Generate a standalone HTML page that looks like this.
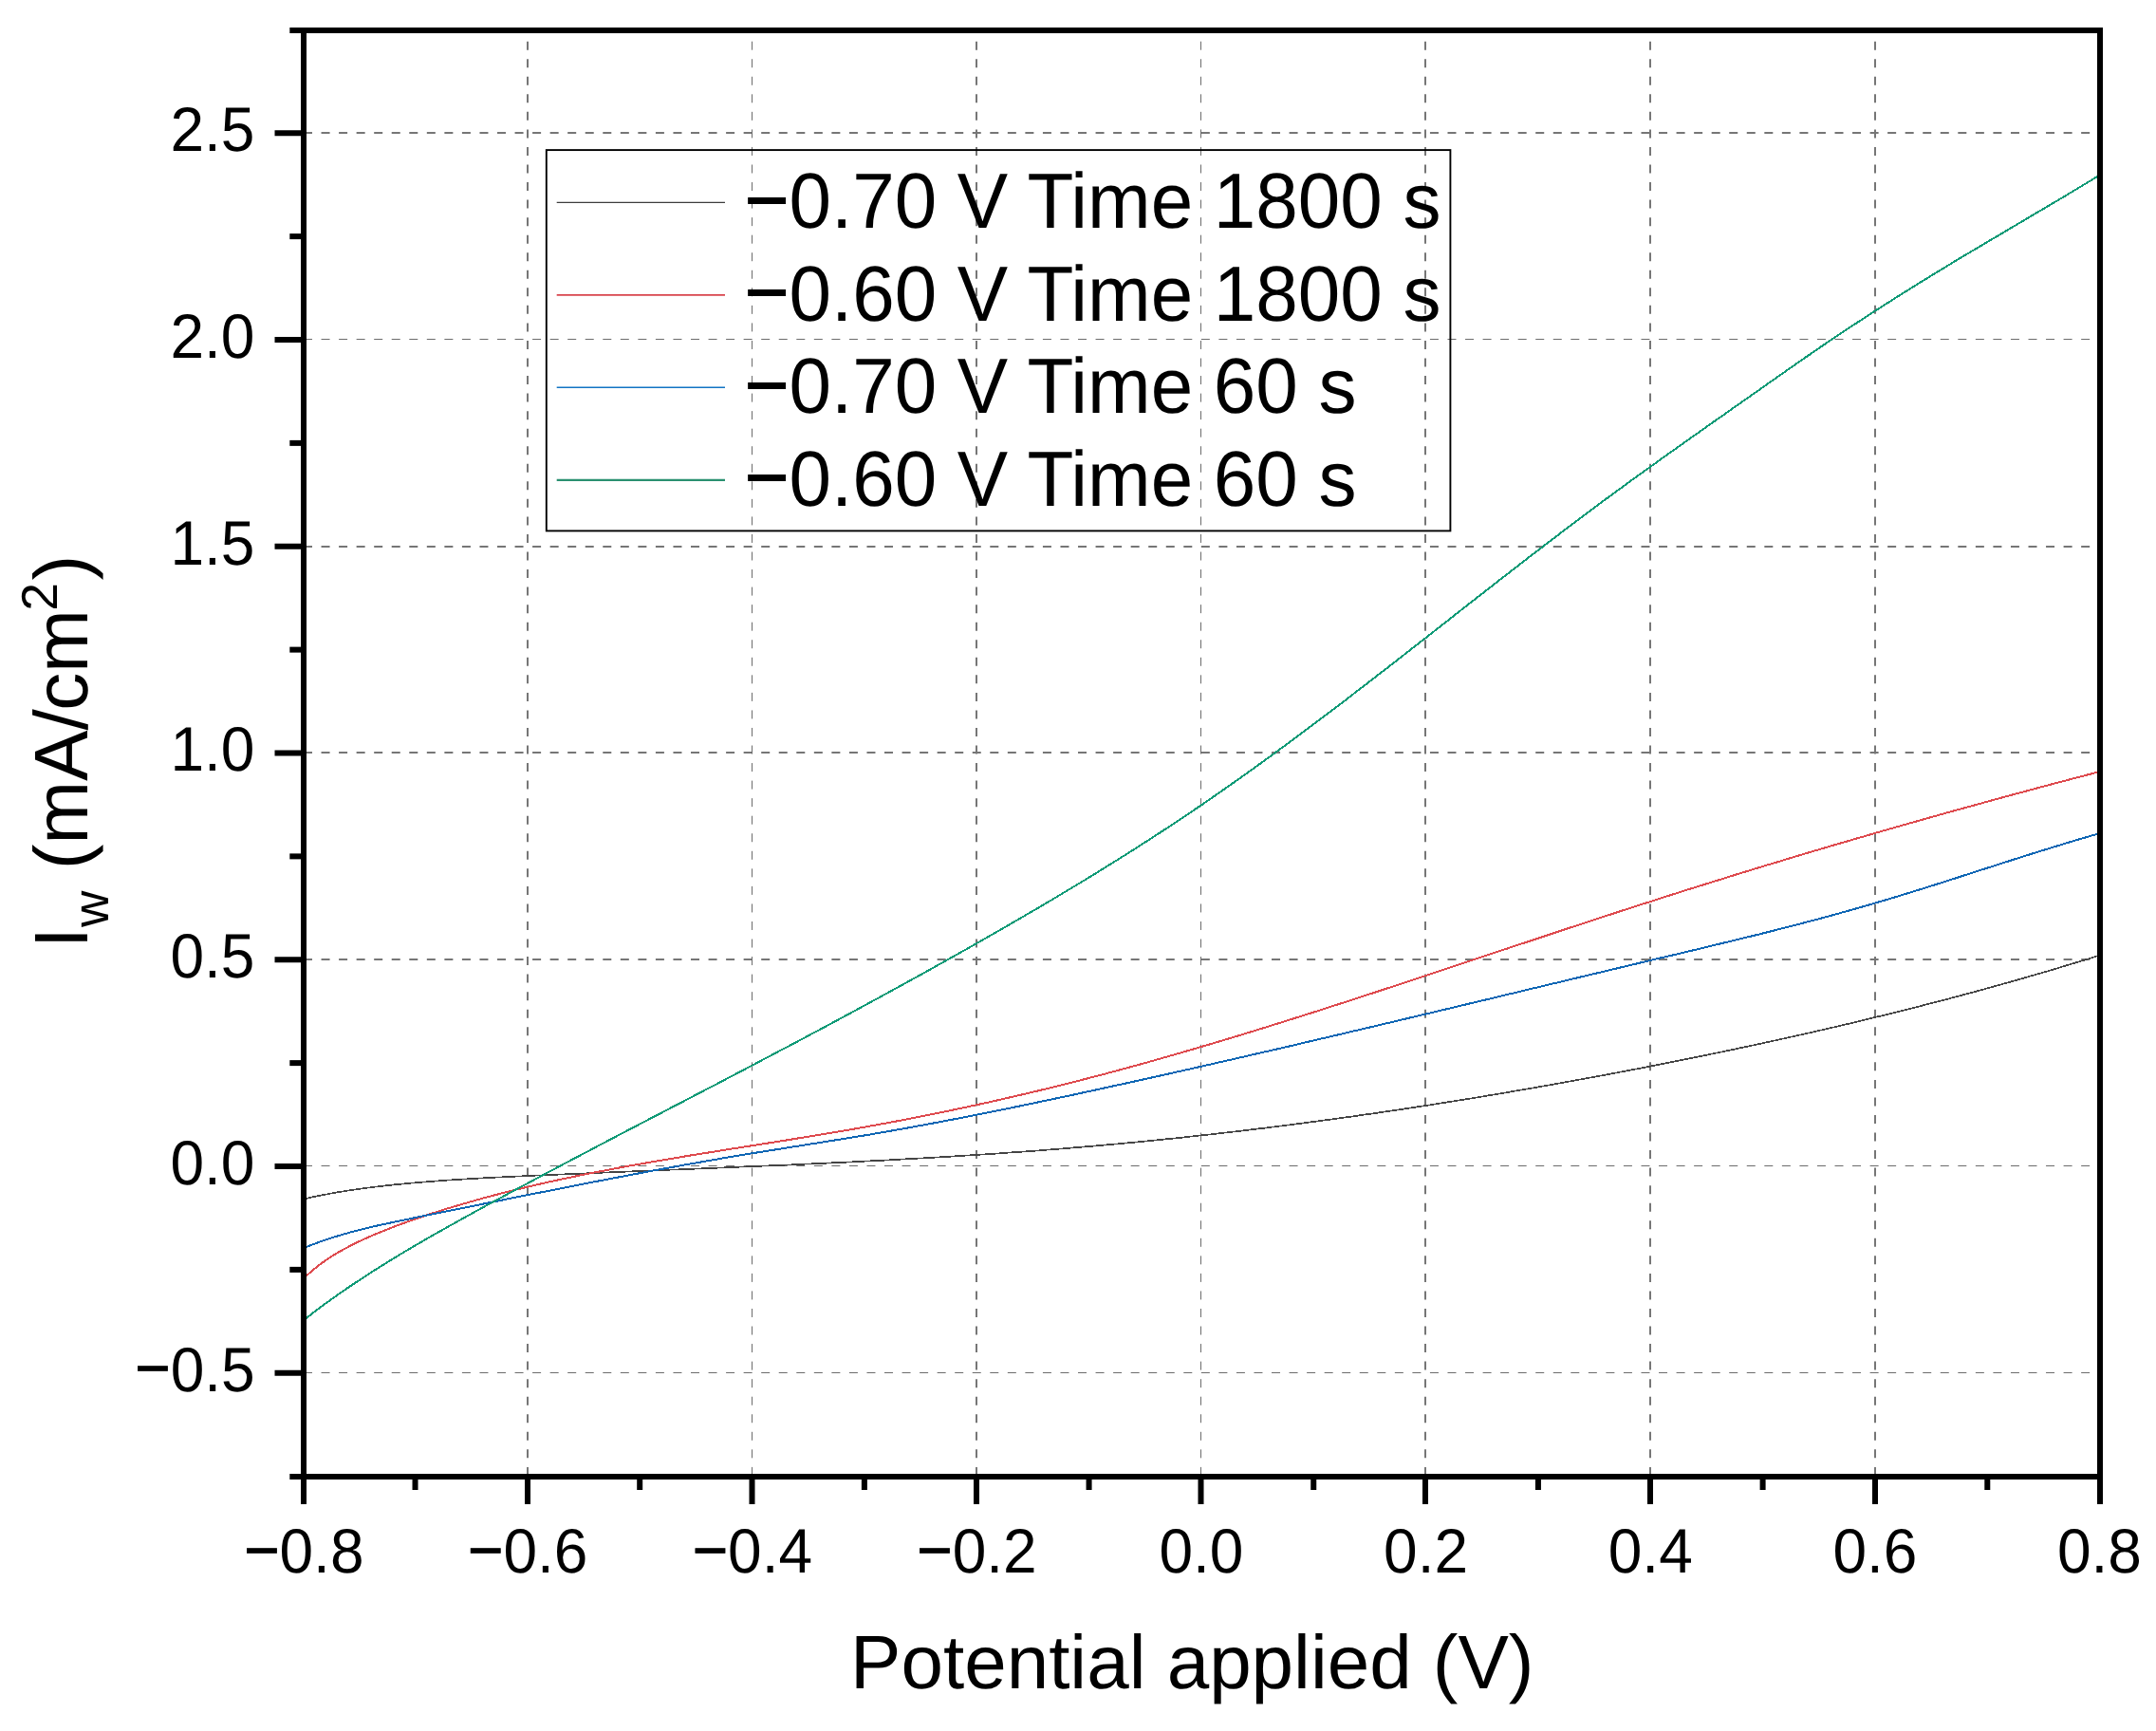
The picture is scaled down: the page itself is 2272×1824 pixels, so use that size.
<!DOCTYPE html>
<html lang="en"><head><meta charset="utf-8">
<title>Potential applied (V) vs Iw (mA/cm2)</title>
<style>
html,body{margin:0;padding:0;background:#fff;}
body{width:2272px;height:1824px;overflow:hidden;}
svg{display:block;}
text{font-family:"Liberation Sans", sans-serif;fill:#000;text-rendering:geometricPrecision;}
.tk{font-size:64px;}
.ti{font-size:80px;}
</style></head><body>
<svg width="2272" height="1824" viewBox="0 0 2272 1824">
<rect x="0" y="0" width="2272" height="1824" fill="#fff"/>
<g stroke-dasharray="9 9.546" fill="none">
<line x1="320.00" y1="140.00" x2="2210.00" y2="140.00" stroke="#767676" stroke-width="2"/>
<line x1="320.00" y1="357.50" x2="2210.00" y2="357.50" stroke="#6c6c6c" stroke-width="1"/>
<line x1="320.00" y1="576.00" x2="2210.00" y2="576.00" stroke="#767676" stroke-width="2"/>
<line x1="320.00" y1="793.00" x2="2210.00" y2="793.00" stroke="#767676" stroke-width="2"/>
<line x1="320.00" y1="1011.00" x2="2210.00" y2="1011.00" stroke="#767676" stroke-width="2"/>
<line x1="320.00" y1="1228.50" x2="2210.00" y2="1228.50" stroke="#6c6c6c" stroke-width="1"/>
<line x1="320.00" y1="1446.50" x2="2210.00" y2="1446.50" stroke="#6c6c6c" stroke-width="1"/>
<line x1="556.00" y1="1554.90" x2="556.00" y2="36.00" stroke="#767676" stroke-width="2"/>
<line x1="792.50" y1="1554.90" x2="792.50" y2="36.00" stroke="#6c6c6c" stroke-width="1"/>
<line x1="1029.00" y1="1554.90" x2="1029.00" y2="36.00" stroke="#767676" stroke-width="2"/>
<line x1="1265.50" y1="1554.90" x2="1265.50" y2="36.00" stroke="#6c6c6c" stroke-width="1"/>
<line x1="1502.00" y1="1554.90" x2="1502.00" y2="36.00" stroke="#767676" stroke-width="2"/>
<line x1="1739.00" y1="1554.90" x2="1739.00" y2="36.00" stroke="#767676" stroke-width="2"/>
<line x1="1976.00" y1="1554.90" x2="1976.00" y2="36.00" stroke="#767676" stroke-width="2"/>
</g>
<clipPath id="pc"><rect x="317.0" y="29.0" width="1899.0" height="1530.0"/></clipPath>
<g fill="none" stroke-linejoin="round" clip-path="url(#pc)" shape-rendering="crispEdges">
<path d="M319.2 1263.6 L328.6 1261.5 L338.1 1259.6 L347.6 1257.8 L357.0 1256.1 L366.5 1254.6 L376.0 1253.2 L385.5 1251.9 L394.9 1250.7 L404.4 1249.6 L413.9 1248.5 L423.3 1247.6 L432.8 1246.7 L442.3 1245.9 L451.7 1245.1 L461.2 1244.4 L470.7 1243.7 L480.1 1243.1 L489.6 1242.5 L499.1 1242.0 L508.5 1241.4 L518.0 1240.9 L527.5 1240.4 L536.9 1240.0 L546.4 1239.5 L555.9 1239.1 L565.3 1238.6 L574.8 1238.2 L584.3 1237.8 L593.7 1237.4 L603.2 1237.0 L612.7 1236.6 L622.1 1236.2 L631.6 1235.8 L641.1 1235.4 L650.5 1235.0 L660.0 1234.6 L669.5 1234.2 L678.9 1233.8 L688.4 1233.4 L697.9 1233.0 L707.3 1232.6 L716.8 1232.3 L726.3 1231.9 L735.7 1231.5 L745.2 1231.1 L754.7 1230.7 L764.1 1230.3 L773.6 1229.9 L783.1 1229.5 L792.5 1229.1 L802.0 1228.7 L811.5 1228.3 L820.9 1227.9 L830.4 1227.5 L839.9 1227.1 L849.3 1226.6 L858.8 1226.2 L868.3 1225.8 L877.7 1225.3 L887.2 1224.9 L896.7 1224.4 L906.1 1223.9 L915.6 1223.4 L925.1 1223.0 L934.5 1222.5 L944.0 1222.0 L953.5 1221.4 L962.9 1220.9 L972.4 1220.4 L981.9 1219.8 L991.4 1219.3 L1000.8 1218.7 L1010.3 1218.1 L1019.8 1217.5 L1029.2 1216.9 L1038.7 1216.3 L1048.2 1215.7 L1057.6 1215.0 L1067.1 1214.3 L1076.6 1213.7 L1086.0 1213.0 L1095.5 1212.3 L1105.0 1211.5 L1114.4 1210.8 L1123.9 1210.0 L1133.4 1209.2 L1142.8 1208.4 L1152.3 1207.6 L1161.8 1206.8 L1171.2 1205.9 L1180.7 1205.1 L1190.2 1204.2 L1199.6 1203.3 L1209.1 1202.3 L1218.6 1201.4 L1228.0 1200.4 L1237.5 1199.5 L1247.0 1198.5 L1256.4 1197.4 L1265.9 1196.4 L1275.4 1195.4 L1284.8 1194.3 L1294.3 1193.2 L1303.8 1192.1 L1313.2 1191.0 L1322.7 1189.8 L1332.2 1188.7 L1341.6 1187.5 L1351.1 1186.3 L1360.6 1185.1 L1370.0 1183.9 L1379.5 1182.6 L1389.0 1181.4 L1398.4 1180.1 L1407.9 1178.8 L1417.4 1177.5 L1426.8 1176.2 L1436.3 1174.8 L1445.8 1173.5 L1455.2 1172.1 L1464.7 1170.7 L1474.2 1169.3 L1483.6 1167.9 L1493.1 1166.4 L1502.6 1165.0 L1512.0 1163.5 L1521.5 1162.0 L1531.0 1160.5 L1540.4 1159.0 L1549.9 1157.5 L1559.4 1155.9 L1568.9 1154.3 L1578.3 1152.8 L1587.8 1151.2 L1597.3 1149.5 L1606.7 1147.9 L1616.2 1146.3 L1625.7 1144.6 L1635.1 1142.9 L1644.6 1141.2 L1654.1 1139.5 L1663.5 1137.8 L1673.0 1136.1 L1682.5 1134.3 L1691.9 1132.6 L1701.4 1130.8 L1710.9 1129.0 L1720.3 1127.2 L1729.8 1125.4 L1739.3 1123.5 L1748.7 1121.7 L1758.2 1119.8 L1767.7 1117.9 L1777.1 1116.0 L1786.6 1114.1 L1796.1 1112.2 L1805.5 1110.2 L1815.0 1108.3 L1824.5 1106.3 L1833.9 1104.3 L1843.4 1102.3 L1852.9 1100.2 L1862.3 1098.2 L1871.8 1096.1 L1881.3 1094.0 L1890.7 1091.9 L1900.2 1089.8 L1909.7 1087.7 L1919.1 1085.5 L1928.6 1083.3 L1938.1 1081.1 L1947.5 1078.9 L1957.0 1076.6 L1966.5 1074.3 L1975.9 1072.0 L1985.4 1069.7 L1994.9 1067.4 L2004.3 1065.0 L2013.8 1062.6 L2023.3 1060.2 L2032.7 1057.8 L2042.2 1055.3 L2051.7 1052.9 L2061.1 1050.4 L2070.6 1047.8 L2080.1 1045.3 L2089.5 1042.7 L2099.0 1040.1 L2108.5 1037.4 L2117.9 1034.8 L2127.4 1032.1 L2136.9 1029.4 L2146.3 1026.6 L2155.8 1023.9 L2165.3 1021.1 L2174.8 1018.2 L2184.2 1015.4 L2193.7 1012.5 L2203.2 1009.6 L2212.6 1006.6" stroke="#444444" stroke-width="1.70"/>
<path d="M319.2 1347.7 L328.6 1339.2 L338.1 1331.7 L347.6 1325.1 L357.0 1319.3 L366.5 1314.1 L376.0 1309.3 L385.5 1304.9 L394.9 1300.8 L404.4 1296.9 L413.9 1293.1 L423.3 1289.6 L432.8 1286.2 L442.3 1282.9 L451.7 1279.8 L461.2 1276.7 L470.7 1273.7 L480.1 1270.9 L489.6 1268.1 L499.1 1265.4 L508.5 1262.7 L518.0 1260.2 L527.5 1257.7 L536.9 1255.3 L546.4 1253.0 L555.9 1250.7 L565.3 1248.5 L574.8 1246.3 L584.3 1244.2 L593.7 1242.2 L603.2 1240.2 L612.7 1238.2 L622.1 1236.3 L631.6 1234.5 L641.1 1232.7 L650.5 1230.9 L660.0 1229.1 L669.5 1227.4 L678.9 1225.8 L688.4 1224.1 L697.9 1222.5 L707.3 1220.9 L716.8 1219.3 L726.3 1217.7 L735.7 1216.2 L745.2 1214.7 L754.7 1213.2 L764.1 1211.6 L773.6 1210.1 L783.1 1208.7 L792.5 1207.2 L802.0 1205.7 L811.5 1204.2 L820.9 1202.7 L830.4 1201.2 L839.9 1199.6 L849.3 1198.1 L858.8 1196.6 L868.3 1195.0 L877.7 1193.4 L887.2 1191.8 L896.7 1190.2 L906.1 1188.5 L915.6 1186.8 L925.1 1185.1 L934.5 1183.4 L944.0 1181.6 L953.5 1179.8 L962.9 1178.0 L972.4 1176.1 L981.9 1174.2 L991.4 1172.3 L1000.8 1170.3 L1010.3 1168.3 L1019.8 1166.3 L1029.2 1164.2 L1038.7 1162.2 L1048.2 1160.0 L1057.6 1157.9 L1067.1 1155.7 L1076.6 1153.5 L1086.0 1151.3 L1095.5 1149.0 L1105.0 1146.7 L1114.4 1144.4 L1123.9 1142.0 L1133.4 1139.6 L1142.8 1137.2 L1152.3 1134.7 L1161.8 1132.3 L1171.2 1129.7 L1180.7 1127.2 L1190.2 1124.6 L1199.6 1122.0 L1209.1 1119.4 L1218.6 1116.7 L1228.0 1114.0 L1237.5 1111.3 L1247.0 1108.6 L1256.4 1105.8 L1265.9 1103.0 L1275.4 1100.2 L1284.8 1097.4 L1294.3 1094.6 L1303.8 1091.7 L1313.2 1088.8 L1322.7 1085.9 L1332.2 1083.0 L1341.6 1080.0 L1351.1 1077.1 L1360.6 1074.1 L1370.0 1071.1 L1379.5 1068.1 L1389.0 1065.1 L1398.4 1062.1 L1407.9 1059.0 L1417.4 1056.0 L1426.8 1052.9 L1436.3 1049.8 L1445.8 1046.7 L1455.2 1043.6 L1464.7 1040.5 L1474.2 1037.4 L1483.6 1034.3 L1493.1 1031.2 L1502.6 1028.0 L1512.0 1024.9 L1521.5 1021.7 L1531.0 1018.6 L1540.4 1015.4 L1549.9 1012.3 L1559.4 1009.1 L1568.9 1006.0 L1578.3 1002.8 L1587.8 999.7 L1597.3 996.5 L1606.7 993.4 L1616.2 990.3 L1625.7 987.1 L1635.1 984.0 L1644.6 980.8 L1654.1 977.7 L1663.5 974.6 L1673.0 971.5 L1682.5 968.4 L1691.9 965.3 L1701.4 962.2 L1710.9 959.1 L1720.3 956.1 L1729.8 953.0 L1739.3 950.0 L1748.7 946.9 L1758.2 943.9 L1767.7 940.9 L1777.1 937.9 L1786.6 934.9 L1796.1 932.0 L1805.5 929.0 L1815.0 926.1 L1824.5 923.1 L1833.9 920.2 L1843.4 917.3 L1852.9 914.4 L1862.3 911.5 L1871.8 908.7 L1881.3 905.8 L1890.7 903.0 L1900.2 900.1 L1909.7 897.3 L1919.1 894.5 L1928.6 891.7 L1938.1 888.9 L1947.5 886.2 L1957.0 883.4 L1966.5 880.7 L1975.9 877.9 L1985.4 875.2 L1994.9 872.5 L2004.3 869.8 L2013.8 867.1 L2023.3 864.4 L2032.7 861.7 L2042.2 859.1 L2051.7 856.4 L2061.1 853.8 L2070.6 851.2 L2080.1 848.6 L2089.5 846.0 L2099.0 843.4 L2108.5 840.8 L2117.9 838.2 L2127.4 835.7 L2136.9 833.1 L2146.3 830.6 L2155.8 828.0 L2165.3 825.5 L2174.8 823.0 L2184.2 820.5 L2193.7 818.0 L2203.2 815.6 L2212.6 813.1" stroke="#de4a4e" stroke-width="2.00"/>
<path d="M319.2 1315.5 L328.6 1311.7 L338.1 1308.2 L347.6 1305.0 L357.0 1302.0 L366.5 1299.3 L376.0 1296.7 L385.5 1294.4 L394.9 1292.1 L404.4 1290.0 L413.9 1288.0 L423.3 1286.0 L432.8 1284.1 L442.3 1282.1 L451.7 1280.2 L461.2 1278.3 L470.7 1276.4 L480.1 1274.5 L489.6 1272.6 L499.1 1270.7 L508.5 1268.7 L518.0 1266.8 L527.5 1264.9 L536.9 1263.0 L546.4 1261.1 L555.9 1259.2 L565.3 1257.3 L574.8 1255.5 L584.3 1253.6 L593.7 1251.7 L603.2 1249.9 L612.7 1248.0 L622.1 1246.1 L631.6 1244.3 L641.1 1242.5 L650.5 1240.7 L660.0 1238.9 L669.5 1237.1 L678.9 1235.3 L688.4 1233.5 L697.9 1231.8 L707.3 1230.1 L716.8 1228.3 L726.3 1226.6 L735.7 1225.0 L745.2 1223.3 L754.7 1221.7 L764.1 1220.0 L773.6 1218.4 L783.1 1216.9 L792.5 1215.3 L802.0 1213.8 L811.5 1212.3 L820.9 1210.8 L830.4 1209.3 L839.9 1207.8 L849.3 1206.3 L858.8 1204.8 L868.3 1203.3 L877.7 1201.8 L887.2 1200.3 L896.7 1198.8 L906.1 1197.2 L915.6 1195.7 L925.1 1194.0 L934.5 1192.4 L944.0 1190.7 L953.5 1189.1 L962.9 1187.3 L972.4 1185.6 L981.9 1183.8 L991.4 1182.1 L1000.8 1180.2 L1010.3 1178.4 L1019.8 1176.6 L1029.2 1174.7 L1038.7 1172.8 L1048.2 1170.9 L1057.6 1169.0 L1067.1 1167.0 L1076.6 1165.1 L1086.0 1163.1 L1095.5 1161.1 L1105.0 1159.1 L1114.4 1157.1 L1123.9 1155.1 L1133.4 1153.1 L1142.8 1151.0 L1152.3 1149.0 L1161.8 1146.9 L1171.2 1144.8 L1180.7 1142.8 L1190.2 1140.7 L1199.6 1138.6 L1209.1 1136.5 L1218.6 1134.4 L1228.0 1132.3 L1237.5 1130.1 L1247.0 1128.0 L1256.4 1125.9 L1265.9 1123.7 L1275.4 1121.6 L1284.8 1119.4 L1294.3 1117.3 L1303.8 1115.1 L1313.2 1112.9 L1322.7 1110.7 L1332.2 1108.5 L1341.6 1106.4 L1351.1 1104.2 L1360.6 1102.0 L1370.0 1099.8 L1379.5 1097.5 L1389.0 1095.3 L1398.4 1093.1 L1407.9 1090.9 L1417.4 1088.7 L1426.8 1086.4 L1436.3 1084.2 L1445.8 1082.0 L1455.2 1079.7 L1464.7 1077.5 L1474.2 1075.2 L1483.6 1073.0 L1493.1 1070.7 L1502.6 1068.5 L1512.0 1066.2 L1521.5 1064.0 L1531.0 1061.7 L1540.4 1059.5 L1549.9 1057.2 L1559.4 1054.9 L1568.9 1052.7 L1578.3 1050.4 L1587.8 1048.1 L1597.3 1045.9 L1606.7 1043.6 L1616.2 1041.3 L1625.7 1039.1 L1635.1 1036.8 L1644.6 1034.6 L1654.1 1032.3 L1663.5 1030.0 L1673.0 1027.8 L1682.5 1025.5 L1691.9 1023.3 L1701.4 1021.0 L1710.9 1018.7 L1720.3 1016.5 L1729.8 1014.2 L1739.3 1012.0 L1748.7 1009.7 L1758.2 1007.5 L1767.7 1005.3 L1777.1 1003.0 L1786.6 1000.8 L1796.1 998.5 L1805.5 996.2 L1815.0 993.9 L1824.5 991.6 L1833.9 989.3 L1843.4 987.0 L1852.9 984.7 L1862.3 982.3 L1871.8 979.9 L1881.3 977.5 L1890.7 975.1 L1900.2 972.6 L1909.7 970.1 L1919.1 967.6 L1928.6 965.0 L1938.1 962.4 L1947.5 959.8 L1957.0 957.1 L1966.5 954.4 L1975.9 951.6 L1985.4 948.8 L1994.9 946.0 L2004.3 943.1 L2013.8 940.2 L2023.3 937.3 L2032.7 934.3 L2042.2 931.3 L2051.7 928.3 L2061.1 925.3 L2070.6 922.2 L2080.1 919.2 L2089.5 916.1 L2099.0 913.1 L2108.5 910.1 L2117.9 907.0 L2127.4 904.0 L2136.9 901.0 L2146.3 898.0 L2155.8 895.1 L2165.3 892.2 L2174.8 889.3 L2184.2 886.4 L2193.7 883.6 L2203.2 880.8 L2212.6 878.1" stroke="#0e66b4" stroke-width="2.00"/>
<path d="M319.2 1391.8 L328.6 1384.4 L338.1 1377.2 L347.6 1370.3 L357.0 1363.6 L366.5 1357.0 L376.0 1350.7 L385.5 1344.5 L394.9 1338.4 L404.4 1332.4 L413.9 1326.6 L423.3 1320.8 L432.8 1315.2 L442.3 1309.7 L451.7 1304.2 L461.2 1298.8 L470.7 1293.5 L480.1 1288.2 L489.6 1282.9 L499.1 1277.7 L508.5 1272.5 L518.0 1267.4 L527.5 1262.2 L536.9 1257.1 L546.4 1252.0 L555.9 1246.9 L565.3 1241.9 L574.8 1236.8 L584.3 1231.8 L593.7 1226.8 L603.2 1221.7 L612.7 1216.8 L622.1 1211.8 L631.6 1206.8 L641.1 1201.8 L650.5 1196.9 L660.0 1191.9 L669.5 1187.0 L678.9 1182.0 L688.4 1177.1 L697.9 1172.2 L707.3 1167.2 L716.8 1162.3 L726.3 1157.4 L735.7 1152.4 L745.2 1147.5 L754.7 1142.6 L764.1 1137.6 L773.6 1132.6 L783.1 1127.7 L792.5 1122.7 L802.0 1117.7 L811.5 1112.7 L820.9 1107.7 L830.4 1102.7 L839.9 1097.7 L849.3 1092.7 L858.8 1087.6 L868.3 1082.6 L877.7 1077.5 L887.2 1072.4 L896.7 1067.3 L906.1 1062.2 L915.6 1057.0 L925.1 1051.9 L934.5 1046.7 L944.0 1041.5 L953.5 1036.3 L962.9 1031.1 L972.4 1025.9 L981.9 1020.6 L991.4 1015.3 L1000.8 1010.0 L1010.3 1004.7 L1019.8 999.4 L1029.2 994.0 L1038.7 988.6 L1048.2 983.2 L1057.6 977.8 L1067.1 972.3 L1076.6 966.8 L1086.0 961.3 L1095.5 955.8 L1105.0 950.2 L1114.4 944.6 L1123.9 938.9 L1133.4 933.2 L1142.8 927.5 L1152.3 921.7 L1161.8 915.9 L1171.2 910.0 L1180.7 904.1 L1190.2 898.1 L1199.6 892.1 L1209.1 886.0 L1218.6 879.9 L1228.0 873.7 L1237.5 867.5 L1247.0 861.2 L1256.4 854.8 L1265.9 848.4 L1275.4 841.9 L1284.8 835.3 L1294.3 828.7 L1303.8 822.0 L1313.2 815.3 L1322.7 808.5 L1332.2 801.6 L1341.6 794.8 L1351.1 787.8 L1360.6 780.8 L1370.0 773.8 L1379.5 766.7 L1389.0 759.6 L1398.4 752.5 L1407.9 745.3 L1417.4 738.1 L1426.8 730.8 L1436.3 723.5 L1445.8 716.2 L1455.2 708.9 L1464.7 701.6 L1474.2 694.2 L1483.6 686.8 L1493.1 679.4 L1502.6 672.0 L1512.0 664.6 L1521.5 657.2 L1531.0 649.8 L1540.4 642.3 L1549.9 634.9 L1559.4 627.5 L1568.9 620.1 L1578.3 612.7 L1587.8 605.4 L1597.3 598.0 L1606.7 590.7 L1616.2 583.4 L1625.7 576.1 L1635.1 568.9 L1644.6 561.7 L1654.1 554.5 L1663.5 547.4 L1673.0 540.3 L1682.5 533.2 L1691.9 526.2 L1701.4 519.2 L1710.9 512.3 L1720.3 505.4 L1729.8 498.6 L1739.3 491.8 L1748.7 485.0 L1758.2 478.2 L1767.7 471.5 L1777.1 464.8 L1786.6 458.1 L1796.1 451.4 L1805.5 444.7 L1815.0 438.1 L1824.5 431.4 L1833.9 424.8 L1843.4 418.1 L1852.9 411.5 L1862.3 404.8 L1871.8 398.2 L1881.3 391.5 L1890.7 384.9 L1900.2 378.3 L1909.7 371.8 L1919.1 365.3 L1928.6 358.9 L1938.1 352.5 L1947.5 346.2 L1957.0 340.0 L1966.5 333.8 L1975.9 327.7 L1985.4 321.6 L1994.9 315.6 L2004.3 309.6 L2013.8 303.7 L2023.3 297.8 L2032.7 292.0 L2042.2 286.2 L2051.7 280.4 L2061.1 274.7 L2070.6 269.0 L2080.1 263.4 L2089.5 257.8 L2099.0 252.2 L2108.5 246.6 L2117.9 241.0 L2127.4 235.4 L2136.9 229.8 L2146.3 224.2 L2155.8 218.6 L2165.3 213.0 L2174.8 207.4 L2184.2 201.7 L2193.7 196.0 L2203.2 190.3 L2212.6 184.5" stroke="#0e9a76" stroke-width="2.00"/>
</g>
<g fill="#000">
<rect x="317.00" y="29.00" width="6.00" height="1556.00"/>
<rect x="2210.00" y="29.00" width="6.00" height="1556.00"/>
<rect x="305.30" y="29.00" width="1910.70" height="6.00"/>
<rect x="305.30" y="1553.00" width="1910.70" height="6.00"/>
<rect x="289.50" y="1443.75" width="28.50" height="6.00"/>
<rect x="289.50" y="1226.00" width="28.50" height="6.00"/>
<rect x="289.50" y="1008.25" width="28.50" height="6.00"/>
<rect x="289.50" y="790.50" width="28.50" height="6.00"/>
<rect x="289.50" y="572.75" width="28.50" height="6.00"/>
<rect x="289.50" y="355.00" width="28.50" height="6.00"/>
<rect x="289.50" y="137.25" width="28.50" height="6.00"/>
<rect x="305.30" y="1334.88" width="12.70" height="6.00"/>
<rect x="305.30" y="1117.12" width="12.70" height="6.00"/>
<rect x="305.30" y="899.38" width="12.70" height="6.00"/>
<rect x="305.30" y="681.62" width="12.70" height="6.00"/>
<rect x="305.30" y="463.88" width="12.70" height="6.00"/>
<rect x="305.30" y="246.12" width="12.70" height="6.00"/>
<rect x="553.00" y="1558.00" width="6.00" height="27.00"/>
<rect x="789.50" y="1558.00" width="6.00" height="27.00"/>
<rect x="1026.00" y="1558.00" width="6.00" height="27.00"/>
<rect x="1262.50" y="1558.00" width="6.00" height="27.00"/>
<rect x="1499.00" y="1558.00" width="6.00" height="27.00"/>
<rect x="1736.00" y="1558.00" width="6.00" height="27.00"/>
<rect x="1973.00" y="1558.00" width="6.00" height="27.00"/>
<rect x="434.52" y="1558.00" width="6.00" height="12.00"/>
<rect x="671.20" y="1558.00" width="6.00" height="12.00"/>
<rect x="907.88" y="1558.00" width="6.00" height="12.00"/>
<rect x="1144.56" y="1558.00" width="6.00" height="12.00"/>
<rect x="1381.24" y="1558.00" width="6.00" height="12.00"/>
<rect x="1617.92" y="1558.00" width="6.00" height="12.00"/>
<rect x="1854.60" y="1558.00" width="6.00" height="12.00"/>
<rect x="2091.28" y="1558.00" width="6.00" height="12.00"/>
</g>
<text class="tk" transform="translate(320.00,1657.00) scale(1,1.032)" text-anchor="middle"><tspan stroke="#000" stroke-width="0.85" dx="0.3" dy="-1.30">−</tspan><tspan dy="1.30">0.8</tspan></text>
<text class="tk" transform="translate(555.86,1657.00) scale(1,1.032)" text-anchor="middle"><tspan stroke="#000" stroke-width="0.85" dx="0.3" dy="-1.30">−</tspan><tspan dy="1.30">0.6</tspan></text>
<text class="tk" transform="translate(792.54,1657.00) scale(1,1.032)" text-anchor="middle"><tspan stroke="#000" stroke-width="0.85" dx="0.3" dy="-1.30">−</tspan><tspan dy="1.30">0.4</tspan></text>
<text class="tk" transform="translate(1029.22,1657.00) scale(1,1.032)" text-anchor="middle"><tspan stroke="#000" stroke-width="0.85" dx="0.3" dy="-1.30">−</tspan><tspan dy="1.30">0.2</tspan></text>
<text class="tk" transform="translate(1265.90,1657.00) scale(1,1.032)" text-anchor="middle">0.0</text>
<text class="tk" transform="translate(1502.58,1657.00) scale(1,1.032)" text-anchor="middle">0.2</text>
<text class="tk" transform="translate(1739.26,1657.00) scale(1,1.032)" text-anchor="middle">0.4</text>
<text class="tk" transform="translate(1975.94,1657.00) scale(1,1.032)" text-anchor="middle">0.6</text>
<text class="tk" transform="translate(2212.40,1657.00) scale(1,1.032)" text-anchor="middle">0.8</text>
<text class="tk" transform="translate(268.40,1465.55) scale(1,1.032)" text-anchor="end"><tspan stroke="#000" stroke-width="0.85" dx="0.3" dy="-1.30">−</tspan><tspan dy="1.30">0.5</tspan></text>
<text class="tk" transform="translate(268.40,1247.80) scale(1,1.032)" text-anchor="end">0.0</text>
<text class="tk" transform="translate(268.40,1030.05) scale(1,1.032)" text-anchor="end">0.5</text>
<text class="tk" transform="translate(268.40,812.30) scale(1,1.032)" text-anchor="end">1.0</text>
<text class="tk" transform="translate(268.40,594.55) scale(1,1.032)" text-anchor="end">1.5</text>
<text class="tk" transform="translate(268.40,376.80) scale(1,1.032)" text-anchor="end">2.0</text>
<text class="tk" transform="translate(268.40,159.05) scale(1,1.032)" text-anchor="end">2.5</text>
<text class="ti" x="1256.30" y="1778.70" text-anchor="middle">Potential applied (V)</text>
<text class="ti" transform="translate(92,999.2) rotate(-90)" x="0" y="0">I<tspan font-size="53.3" dy="21.5">w</tspan><tspan dy="-21.5"> (mA/</tspan><tspan dx="-1.5">cm</tspan><tspan font-size="53.3" dy="-32" dx="-1.5">2</tspan><tspan dy="32" dx="2.5">)</tspan></text>
<rect x="575.80" y="158.10" width="952.60" height="401.30" fill="none" stroke="#000" stroke-width="1.9"/>
<line x1="586.7" y1="213.30" x2="764.0" y2="213.30" stroke="#3c3c3c" stroke-width="1.30"/>
<text class="ti" transform="translate(784.50,240.30) scale(1,1.032)" word-spacing="-0.6"><tspan stroke="#000" stroke-width="1.06" dx="0.3" dy="-1.62">−</tspan><tspan dy="1.62">0.70 V Time 1800 s</tspan></text>
<line x1="586.7" y1="310.90" x2="764.0" y2="310.90" stroke="#d8444c" stroke-width="1.90"/>
<text class="ti" transform="translate(784.50,337.80) scale(1,1.032)" word-spacing="-0.6"><tspan stroke="#000" stroke-width="1.06" dx="0.3" dy="-1.62">−</tspan><tspan dy="1.62">0.60 V Time 1800 s</tspan></text>
<line x1="586.7" y1="408.30" x2="764.0" y2="408.30" stroke="#1274c4" stroke-width="1.40"/>
<text class="ti" transform="translate(784.50,435.30) scale(1,1.032)" word-spacing="-0.6"><tspan stroke="#000" stroke-width="1.06" dx="0.3" dy="-1.62">−</tspan><tspan dy="1.62">0.70 V Time 60 s</tspan></text>
<line x1="586.7" y1="505.80" x2="764.0" y2="505.80" stroke="#2a9070" stroke-width="2.30"/>
<text class="ti" transform="translate(784.50,532.80) scale(1,1.032)" word-spacing="-0.6"><tspan stroke="#000" stroke-width="1.06" dx="0.3" dy="-1.62">−</tspan><tspan dy="1.62">0.60 V Time 60 s</tspan></text>
</svg>
</body></html>
